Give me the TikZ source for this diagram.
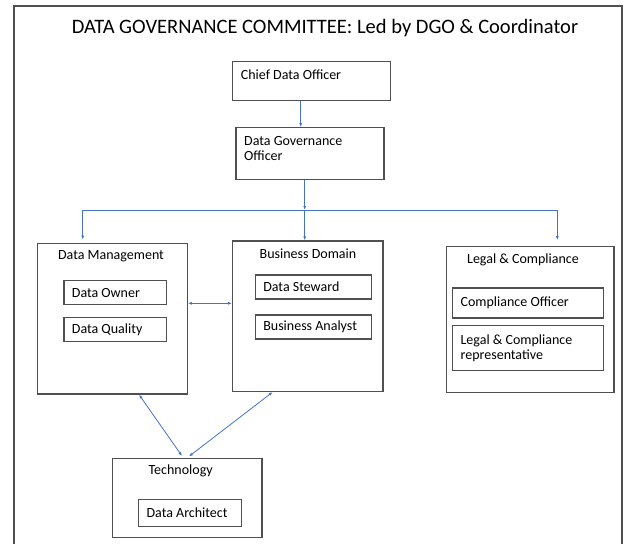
\documentclass[tikz,border=0pt]{standalone}
\usepackage{fontspec}
\setmainfont{Carlito}
\usepackage{xcolor}
\usetikzlibrary{positioning}
\usetikzlibrary{arrows.meta}

\definecolor{boxgray}{RGB}{80,80,80}
\definecolor{linkblue}{RGB}{68,114,196}

\begin{document}
\begin{tikzpicture}[x=1pt, y=-1pt,
		every node/.style={font=\fontsize{14}{15.5}\selectfont},
		unit/.style={draw=boxgray, line width=1.2pt, inner sep=0pt},
		role/.style={draw=boxgray, line width=1.2pt, anchor=north west, inner xsep=8pt, inner ysep=0pt, text width=#1, align=flush left},
		link/.style={draw=linkblue, line width=0.8pt, -{Latex[length=4pt,width=3pt]}},
		both/.style={link, {Latex[length=4pt,width=3pt]}-{Latex[length=4pt,width=3pt]}}]
	\useasboundingbox (0,0) rectangle (630,544);
	\draw[boxgray, line width=1.2pt] (14,550) -- (14,6) -- (622,6) -- (622,550);
	\node[font=\fontsize{20.5}{24}\selectfont] (title) at (325,28) {DATA GOVERNANCE COMMITTEE: Led by DGO \& Coordinator};

	% top of the chain
	\node[unit, minimum width=158pt, minimum height=39pt] (cdo) at (311.7,81.3) {};
	\node[anchor=west, inner sep=0pt] (cdo-txt) at (240.7,75) {Chief Data Officer};
	\node[unit, minimum width=148pt, minimum height=51.6pt] (dgo) at (310,153.5) {};
	\node[anchor=west, inner sep=0pt, align=flush left] (dgo-txt) at (244,148.5) {Data Governance\\Officer};
	\draw[link] ([xshift=-11pt]cdo.south) -- ([xshift=-9.3pt]dgo.north);

	% the three groups
	\node[unit, minimum width=150pt, minimum height=150.7pt] (mgmt) at (112.3,318.6) {};
	\node (mgmt-hd) at (111,256) {Data Management};
	\node[role=86.4pt, minimum height=24pt] (owner) at (63.3,280) {Data Owner};
	\node[role=86.4pt, minimum height=24pt] (quality) at (63.3,316.7) {Data Quality};

	\node[unit, minimum width=150.3pt, minimum height=150.5pt] (biz) at (307.8,316.2) {};
	\node (biz-hd) at (308,254) {Business Domain};
	\node[role=100pt, minimum height=24pt] (steward) at (254.7,274.3) {Data Steward};
	\node[role=100pt, minimum height=24pt] (analyst) at (254.7,314.3) {Business Analyst};

	\node[unit, minimum width=167.3pt, minimum height=145.6pt] (legal) at (530.3,319.5) {};
	\node (legal-hd) at (523,260) {Legal \& Compliance};
	\node[role=134.7pt, minimum height=30pt] (officer) at (452,287.3) {Compliance Officer};
	\node[role=134.7pt, minimum height=45pt] (rep) at (452,325) {Legal \& Compliance\\representative};

	\node[unit, minimum width=149.7pt, minimum height=79.4pt] (tech) at (187.1,498) {};
	\node (tech-hd) at (180.7,470.7) {Technology};
	\node[role=86.7pt, minimum height=27pt] (architect) at (138,499) {Data Architect};

	% fan out from the governance officer
	\coordinate (bus) at (304.7,210);
	\coordinate (bus-l) at (82.7,210);
	\coordinate (bus-r) at (557.3,210);
	\draw[link] (dgo.south -| bus) -- (bus);
	\draw[linkblue, line width=0.8pt] (bus-l) -- (bus-r);
	\draw[link, shorten >=3pt] (bus-l) -- (bus-l |- mgmt.north);
	\draw[link] (bus) -- (bus |- biz.north);
	\draw[link, shorten >=6pt] (bus-r) -- (bus-r |- legal.north);

	% two-way links
	\draw[both] ([yshift=15.3pt]mgmt.east) -- ([yshift=15.3pt]mgmt.east -| biz.west);
	\draw[both, shorten >=2pt] ([xshift=26.7pt]mgmt.south) -- ([xshift=-3.9pt]tech.north);
	\draw[both, shorten >=2pt] ([xshift=-35.1pt]biz.south) -- ([xshift=0.2pt]tech.north);
\end{tikzpicture}
\end{document}
